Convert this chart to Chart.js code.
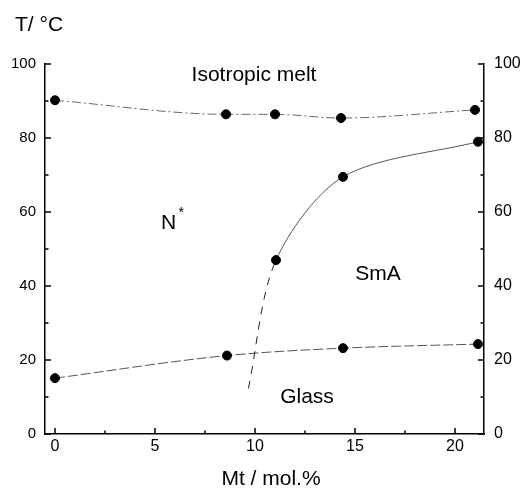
<!DOCTYPE html>
<html lang="en">
  <head>
    <meta charset="UTF-8" />
    <title>Phase diagram</title>
    <script src="https://cdn.jsdelivr.net/npm/chart.js"></script>
    <style>
      html, body { margin: 0; padding: 0; background: #fff; }
      #wrap { width: 526px; height: 490px; }
    </style>
  </head>
  <body>
    <div id="wrap"><canvas id="myChart"></canvas></div>

    <script>
      // data (x = Mt mol.%, y = T / °C)
      const meltX = [0, 8.55, 11.0, 14.3, 21.0];
      const meltT = [90.2, 86.4, 86.4, 85.4, 87.6];
      // first entry = lower end of the dashed (extrapolated) part
      const smaX = [9.67, 11.05, 14.4, 21.15];
      const smaT = [12.3, 47, 69.5, 79];
      const glassX = [0, 8.6, 14.4, 21.15];
      const glassT = [15.1, 21.2, 23.2, 24.3];

      const xTicks = [0, 5, 10, 15, 20];
      const xMinor = [2.5, 7.5, 12.5, 17.5];
      const yTicks = [0, 20, 40, 60, 80, 100];
      const yMinor = [10, 30, 50, 70, 90];

      const labels = [
        { text: "Isotropic melt", x: 9.95, y: 97 },
        { text: "SmA", x: 16.15, y: 43.2 },
        { text: "Glass", x: 12.6, y: 9.9 },
      ];

      const pts = (xs, ys) => xs.map((x, i) => ({ x: x, y: ys[i] }));
      const font = "'Liberation Sans', Arial, sans-serif";

      // inward ticks, annotations and titles
      const decor = {
        id: "decor",
        afterDraw(chart) {
          const ctx = chart.ctx;
          const xs = chart.scales.x;
          const ys = chart.scales.y;
          const area = chart.chartArea;
          ctx.save();
          ctx.strokeStyle = "#000";
          ctx.lineWidth = 1.5;
          ctx.beginPath();
          xTicks.forEach((v) => {
            const px = xs.getPixelForValue(v);
            ctx.moveTo(px, area.bottom);
            ctx.lineTo(px, area.bottom - 6);
          });
          xMinor.forEach((v) => {
            const px = xs.getPixelForValue(v);
            ctx.moveTo(px, area.bottom);
            ctx.lineTo(px, area.bottom - 3.5);
          });
          yTicks.forEach((v) => {
            const py = ys.getPixelForValue(v);
            ctx.moveTo(area.left, py);
            ctx.lineTo(area.left + 6, py);
            ctx.moveTo(area.right, py);
            ctx.lineTo(area.right - 6, py);
          });
          yMinor.forEach((v) => {
            const py = ys.getPixelForValue(v);
            ctx.moveTo(area.left, py);
            ctx.lineTo(area.left + 3.5, py);
            ctx.moveTo(area.right, py);
            ctx.lineTo(area.right - 3.5, py);
          });
          ctx.stroke();

          ctx.fillStyle = "#000";
          ctx.textAlign = "center";
          ctx.textBaseline = "middle";
          ctx.font = "21px " + font;
          labels.forEach((l) => {
            ctx.fillText(l.text, xs.getPixelForValue(l.x), ys.getPixelForValue(l.y));
          });
          // N* with superscript star
          ctx.textAlign = "left";
          ctx.fillText("N", 161, 223);
          ctx.font = "14px " + font;
          ctx.fillText("*", 178.5, 213);

          ctx.font = "21px " + font;
          ctx.fillText("T/ °C", 15, 25);
          ctx.textAlign = "center";
          ctx.fillText("Mt / mol.%", 271, 479);
          ctx.restore();
        },
      };

      const axisBorder = { display: true, color: "#000", width: 1.5 };
      const noGrid = { display: true, drawOnChartArea: false, drawTicks: false };

      new Chart(document.getElementById("myChart"), {
        type: "scatter",
        data: {
          datasets: [
            {
              data: pts(meltX, meltT),
              showLine: true,
              borderColor: "#666",
              borderWidth: 1,
              borderDash: [9, 3, 2, 3],
              cubicInterpolationMode: "monotone",
              pointRadius: 4.5,
              pointBackgroundColor: "#000",
              pointBorderColor: "#000",
            },
            {
              data: pts(smaX, smaT),
              showLine: true,
              borderColor: "#555",
              borderWidth: 1,
              tension: 0.3,
              segment: {
                borderDash: (c) => (c.p0DataIndex === 0 ? [8, 7] : []),
                borderColor: (c) => (c.p0DataIndex === 0 ? "#222" : "#555"),
              },
              pointRadius: [0, 4.5, 4.5, 4.5],
              pointBackgroundColor: "#000",
              pointBorderColor: "#000",
            },
            {
              data: pts(glassX, glassT),
              showLine: true,
              borderColor: "#555",
              borderWidth: 1,
              borderDash: [10, 3],
              cubicInterpolationMode: "monotone",
              pointRadius: 4.5,
              pointBackgroundColor: "#000",
              pointBorderColor: "#000",
            },
          ],
        },
        options: {
          responsive: true,
          maintainAspectRatio: false,
          animation: false,
          layout: { padding: { top: 64, left: 0, right: 0, bottom: 0 } },
          plugins: { legend: { display: false }, tooltip: { enabled: false } },
          scales: {
            x: {
              type: "linear",
              min: -0.5,
              max: 21.45,
              border: axisBorder,
              grid: noGrid,
              afterBuildTicks: (s) => { s.ticks = xTicks.map((v) => ({ value: v })); },
              afterFit: (s) => { s.height = 56; },
              ticks: { color: "#000", font: { family: font, size: 16 }, padding: 3 },
            },
            y: {
              position: "left",
              min: 0,
              max: 100,
              border: axisBorder,
              grid: noGrid,
              afterBuildTicks: (s) => { s.ticks = yTicks.map((v) => ({ value: v })); },
              afterFit: (s) => { s.width = 45; },
              ticks: { color: "#000", font: { family: font, size: 15 }, padding: 9 },
            },
            y2: {
              position: "right",
              min: 0,
              max: 100,
              border: axisBorder,
              grid: noGrid,
              afterBuildTicks: (s) => { s.ticks = yTicks.map((v) => ({ value: v })); },
              afterFit: (s) => { s.width = 42; },
              ticks: { color: "#000", font: { family: font, size: 16 }, padding: 10 },
            },
          },
        },
        plugins: [decor],
      });
    </script>
  </body>
</html>
